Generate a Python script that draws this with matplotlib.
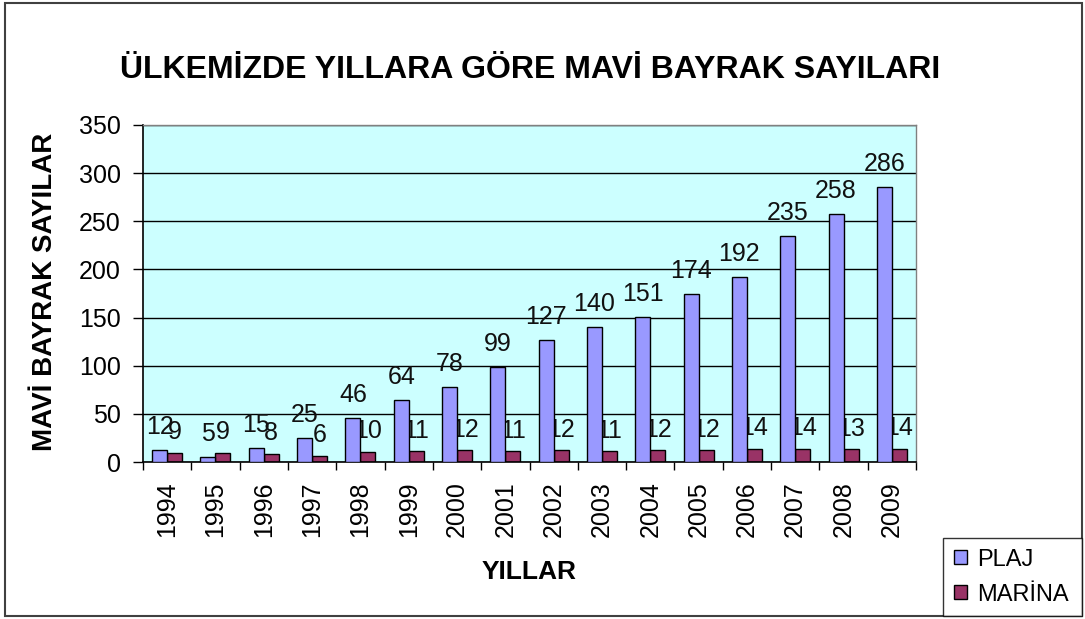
import matplotlib
matplotlib.use("Agg")
import matplotlib.pyplot as plt
from matplotlib.patches import Rectangle, Patch
import numpy as np

years = ["1994", "1995", "1996", "1997", "1998", "1999", "2000", "2001",
         "2002", "2003", "2004", "2005", "2006", "2007", "2008", "2009"]
plaj = [12, 5, 15, 25, 46, 64, 78, 99, 127, 140, 151, 174, 192, 235, 258, 286]
marina = [9, 9, 8, 6, 10, 11, 12, 11, 12, 11, 12, 12, 14, 14, 13, 14]

plt.rcParams['font.family'] = ['Liberation Sans', 'DejaVu Sans']

W, H = 1085, 619
fig = plt.figure(figsize=(W / 100, H / 100), dpi=100)
fig.patch.set_facecolor('white')

ax = fig.add_axes([143 / W, 1 - 462 / H, (916 - 143) / W, (462 - 125) / H])
ax.set_facecolor('#CCFFFF')

x = np.arange(len(years))
bw = 0.31
c_plaj = '#9999FF'
c_marina = '#993366'
fs = 18

ax.bar(x - bw / 2, plaj, bw, color=c_plaj, edgecolor='black', linewidth=1, zorder=3)
ax.bar(x + bw / 2, marina, bw, color=c_marina, edgecolor='black', linewidth=1, zorder=2.5)

for xi, v in zip(x, marina):
    ax.annotate(str(v), (xi + bw / 2, v), xytext=(0, 10), textcoords='offset points',
                ha='center', va='baseline', fontsize=fs, color='#111111', zorder=2.7)
for xi, v in zip(x, plaj):
    ax.annotate(str(v), (xi - bw / 2, v), xytext=(0, 11.5), textcoords='offset points',
                ha='center', va='baseline', fontsize=fs, color='#111111', zorder=4)

ax.set_xlim(-0.5, len(years) - 0.5)
ax.set_ylim(0, 350)
ax.set_yticks(range(0, 351, 50))
ax.yaxis.grid(True, color='black', linewidth=1, zorder=1)
ax.set_axisbelow(True)

ax.set_xticks(x)
ax.set_xticklabels(years, rotation=90, fontsize=fs)
ax.set_xticks(np.arange(-0.5, len(years)), minor=True)
ax.tick_params(axis='x', which='major', length=0, pad=14)
ax.tick_params(axis='x', which='minor', length=6, width=1, direction='out')
ax.tick_params(axis='y', labelsize=fs, length=7, width=1, direction='out', pad=9)

for s in ['left', 'bottom']:
    ax.spines[s].set_color('black')
    ax.spines[s].set_linewidth(1.2)
for s in ['top', 'right']:
    ax.spines[s].set_color('#808080')
    ax.spines[s].set_linewidth(1)

fig.text(530 / W, 1 - 70 / H, 'ÜLKEMİZDE YILLARA GÖRE MAVİ BAYRAK SAYILARI',
         ha='center', va='center', fontsize=23, fontweight='bold')
fig.text(45 / W, 1 - 292 / H, 'MAVİ BAYRAK SAYILAR', rotation=90,
         ha='center', va='center', fontsize=20, fontweight='bold')
fig.text(529 / W, 1 - 572 / H, 'YILLAR', ha='center', va='center',
         fontsize=19, fontweight='bold')

handles = [Patch(facecolor=c_plaj, edgecolor='black', label='PLAJ'),
           Patch(facecolor=c_marina, edgecolor='black', label='MARİNA')]
leg = fig.legend(handles=handles, loc='upper left',
                 bbox_to_anchor=(943 / W, 3 / H, (1082 - 943) / W, (616 - 538) / H),
                 mode='expand', fontsize=17,
                 frameon=True, fancybox=False, edgecolor='black',
                 handlelength=0.55, handleheight=0.55, handletextpad=0.45,
                 borderpad=0.45, labelspacing=0.55, borderaxespad=0)
leg.get_frame().set_linewidth(1)

fig.patches.append(Rectangle((5 / W, 3 / H), (1082 - 5) / W, (616 - 3) / H,
                             transform=fig.transFigure, fill=False,
                             edgecolor='#404040', linewidth=1.5))

fig.savefig('out.png', dpi=100)
